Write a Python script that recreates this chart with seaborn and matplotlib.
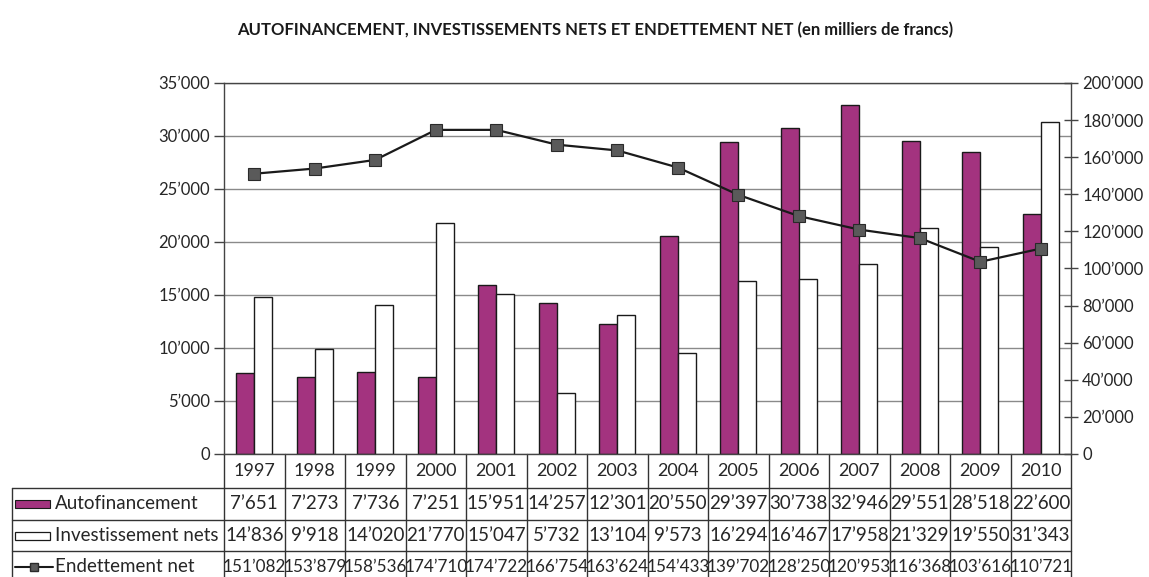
import matplotlib
matplotlib.use('Agg')
import matplotlib.pyplot as plt
import matplotlib.transforms as mtransforms
from matplotlib.patches import Rectangle
from matplotlib.lines import Line2D
from matplotlib.ticker import FuncFormatter, MultipleLocator
import seaborn as sns
import pandas as pd
import numpy as np

# Data (en milliers de francs)
years = ['1997', '1998', '1999', '2000', '2001', '2002', '2003',
         '2004', '2005', '2006', '2007', '2008', '2009', '2010']
autofinancement = [7651, 7273, 7736, 7251, 15951, 14257, 12301,
                   20550, 29397, 30738, 32946, 29551, 28518, 22600]
investissements = [14836, 9918, 14020, 21770, 15047, 5732, 13104,
                   9573, 16294, 16467, 17958, 21329, 19550, 31343]
endettement = [151082, 153879, 158536, 174710, 174722, 166754, 163624,
               154433, 139702, 128250, 120953, 116368, 103616, 110721]
series_labels = ['Autofinancement', 'Investissement nets', 'Endettement net']

purple = '#A3337F'

sns.set_theme(style='white')
plt.rcParams['font.family'] = ['Lato', 'DejaVu Sans']


def fmt(v, pos=None):
    return f'{v:,.0f}'.replace(',', '\u2019')


fig = plt.figure(figsize=(11.49, 5.77), dpi=100)
ax = fig.add_axes([0.195, 0.2132, 0.7372, 0.643])

df = pd.DataFrame({
    'Année': years * 2,
    'Valeur': autofinancement + investissements,
    'Série': [series_labels[0]] * len(years) + [series_labels[1]] * len(years),
})
sns.barplot(data=df, x='Année', y='Valeur', hue='Série',
            palette={series_labels[0]: purple, series_labels[1]: 'white'},
            width=0.6, gap=0, saturation=1, edgecolor='#1a1a1a', linewidth=1.0,
            ax=ax, legend=False)

ax.set_xlim(-0.5, len(years) - 0.5)
ax.set_ylim(0, 35000)
ax.yaxis.set_major_locator(MultipleLocator(5000))
ax.yaxis.set_major_formatter(FuncFormatter(fmt))
ax.yaxis.grid(True, color='#8a8a8a', linewidth=1.0)
ax.set_axisbelow(True)
ax.set_xlabel('')
ax.set_ylabel('')
ax.set_xticks(range(len(years)))
ax.set_xticklabels([])
ax.tick_params(axis='x', length=0)
ax.tick_params(axis='y', direction='out', length=7, width=1, color='#444',
               labelsize=12, pad=3, left=True)
for s in ax.spines.values():
    s.set_color('#444')
    s.set_linewidth(1.0)

# Endettement net on the secondary axis
ax2 = ax.twinx()
sns.lineplot(x=np.arange(len(years)), y=endettement, ax=ax2, color='#1a1a1a',
             linewidth=1.6, marker='s', markersize=8, markerfacecolor='#5a5a5a',
             markeredgecolor='#2a2a2a', markeredgewidth=0.8)
ax2.set_ylim(0, 200000)
ax2.yaxis.set_major_locator(MultipleLocator(20000))
ax2.yaxis.set_major_formatter(FuncFormatter(fmt))
ax2.tick_params(axis='y', direction='inout', length=10, width=1, color='#444',
                labelsize=12, pad=3, right=True)
ax2.grid(False)
for s in ax2.spines.values():
    s.set_visible(False)

# Data table under the chart
trans = mtransforms.blended_transform_factory(ax.transData, ax.transAxes)


def ypx(p):
    return (454 - p) / 371.0


left_edge = (12 - 224) / 847.0
row_lines = [ypx(488), ypx(520), ypx(551), ypx(590)]
row_centers = [ypx(471), ypx(504), ypx(536), ypx(567)]
lc = '#333333'

for i in range(len(years) + 1):
    ax.add_line(Line2D([i - 0.5, i - 0.5], [0, row_lines[-1]], transform=trans,
                       color=lc, lw=1.0, clip_on=False))
ax.add_line(Line2D([left_edge, left_edge], [row_lines[0], row_lines[-1]],
                   transform=ax.transAxes, color=lc, lw=1.0, clip_on=False))
for y in row_lines[:3]:
    ax.add_line(Line2D([left_edge, 1], [y, y], transform=ax.transAxes,
                       color=lc, lw=1.0, clip_on=False))

tfs = 13.5
value_sizes = [13.5, 13.5, 12.3]
for i, yr in enumerate(years):
    ax.text(i, row_centers[0], yr, transform=trans, ha='center', va='center',
            fontsize=13, clip_on=False)
for r, vals in enumerate([autofinancement, investissements, endettement]):
    for i, v in enumerate(vals):
        ax.text(i, row_centers[r + 1], fmt(v), transform=trans, ha='center',
                va='center', fontsize=value_sizes[r], clip_on=False)
    ax.text((55 - 224) / 847.0, row_centers[r + 1], series_labels[r],
            transform=ax.transAxes, ha='left', va='center', fontsize=tfs,
            clip_on=False)

# legend glyphs in the row labels
gx0, gx1 = (15 - 224) / 847.0, (50 - 224) / 847.0
gh = 8 / 371.0
ax.add_patch(Rectangle((gx0, row_centers[1] - gh / 2), gx1 - gx0, gh,
                       transform=ax.transAxes, facecolor=purple,
                       edgecolor='#1a1a1a', lw=0.8, clip_on=False))
ax.add_patch(Rectangle((gx0, row_centers[2] - gh / 2), gx1 - gx0, gh,
                       transform=ax.transAxes, facecolor='white',
                       edgecolor='#1a1a1a', lw=0.9, clip_on=False))
ax.add_line(Line2D([gx0, gx1 + 0.003], [row_centers[3]] * 2, transform=ax.transAxes,
                   color='#1a1a1a', lw=1.5, clip_on=False))
ax.add_line(Line2D([(gx0 + gx1 + 0.003) / 2], [row_centers[3]], transform=ax.transAxes,
                   marker='s', markersize=6, markerfacecolor='#5a5a5a',
                   markeredgecolor='#2a2a2a', clip_on=False))

fig.text(0.518, 0.948, 'AUTOFINANCEMENT, INVESTISSEMENTS NETS ET ENDETTEMENT NET '
         '(en milliers de francs)', ha='center', va='center', fontsize=12,
         fontweight='bold', color='#1a1a1a')

fig.savefig('out.png', dpi=100)
